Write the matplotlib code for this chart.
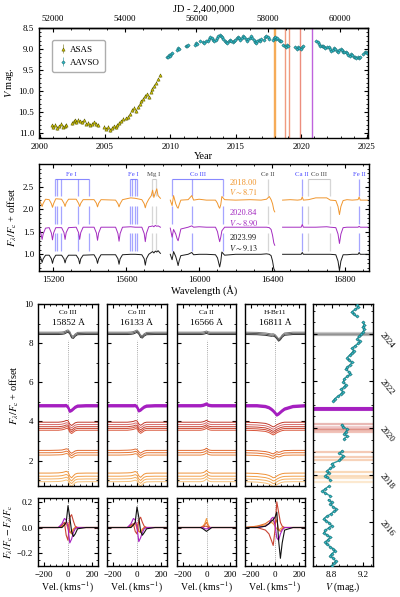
import numpy as np
import matplotlib
matplotlib.use("Agg")
import matplotlib.pyplot as plt
from matplotlib.ticker import MultipleLocator, FixedLocator

plt.rcParams['font.family'] = ['Liberation Serif', 'DejaVu Serif']
plt.rcParams['mathtext.fontset'] = 'stix'
plt.rcParams['font.size'] = 6.5
plt.rcParams['xtick.direction'] = 'in'
plt.rcParams['ytick.direction'] = 'in'
plt.rcParams['xtick.major.size'] = 3
plt.rcParams['ytick.major.size'] = 3
plt.rcParams['xtick.minor.size'] = 1.5
plt.rcParams['ytick.minor.size'] = 1.5
plt.rcParams['axes.linewidth'] = 1.0

# ---------------- light curve data (year, V) ----------------
asas_yr = [2000.95, 2001.05, 2001.15, 2001.3, 2001.45, 2001.6, 2001.75, 2001.9, 2002.05,
           2002.5, 2002.6, 2002.7, 2002.8, 2002.95, 2003.1, 2003.25, 2003.4,
           2003.55, 2003.7, 2003.85, 2004.0, 2004.15, 2004.3, 2004.45,
           2004.9, 2005.05, 2005.2, 2005.35, 2005.5, 2005.65, 2005.8, 2005.95, 2006.1, 2006.25, 2006.4,
           2006.6, 2006.75, 2006.9, 2007.05, 2007.2, 2007.35, 2007.5, 2007.65,
           2007.75, 2007.9, 2008.05, 2008.2, 2008.35, 2008.5, 2008.6, 2008.75, 2008.9, 2009.05, 2009.2]
asas_mag = [10.82, 10.86, 10.80, 10.88, 10.84, 10.78, 10.85, 10.83, 10.80,
            10.76, 10.72, 10.70, 10.74, 10.68, 10.72, 10.75, 10.70,
            10.78, 10.76, 10.80, 10.78, 10.75, 10.79, 10.81,
            10.85, 10.90, 10.86, 10.93, 10.88, 10.84, 10.86, 10.80, 10.76, 10.72, 10.66,
            10.65, 10.62, 10.55, 10.45, 10.40, 10.48, 10.38, 10.32,
            10.25, 10.18, 10.12, 10.08, 10.15, 10.02, 9.95, 9.88, 9.80, 9.72, 9.63]
asas_err = 0.04

aavso_yr = [2009.72, 2009.80, 2009.88, 2009.95, 2010.05, 2010.12,
            2010.50, 2010.58, 2010.66, 2011.20, 2011.28, 2011.36,
            2011.85, 2011.93, 2012.02, 2012.25, 2012.45, 2012.55,
            2012.75, 2012.85, 2012.95, 2013.05, 2013.15, 2013.25, 2013.35, 2013.45, 2013.55,
            2013.65, 2013.75, 2013.85, 2013.95, 2014.05, 2014.15, 2014.25, 2014.35, 2014.45,
            2014.55, 2014.65, 2014.75, 2014.85, 2014.95, 2015.05, 2015.15, 2015.25, 2015.35,
            2015.45, 2015.55, 2015.65, 2015.75, 2015.85, 2015.95, 2016.05, 2016.15, 2016.25,
            2016.35, 2016.45, 2016.55, 2016.65, 2016.75, 2016.85, 2016.95,
            2017.12, 2017.22, 2017.32, 2017.42, 2017.52,
            2017.80, 2017.90, 2017.98, 2018.08, 2018.18, 2018.28, 2018.38, 2018.48,
            2018.62, 2018.72, 2018.82, 2018.92, 2019.02,
            2019.55, 2019.65, 2019.75, 2019.85, 2019.95, 2020.05, 2020.15,
            2021.15, 2021.25, 2021.35, 2021.45, 2021.55, 2021.65, 2021.75, 2021.85, 2021.95,
            2022.10, 2022.20, 2022.30, 2022.40, 2022.50, 2022.60, 2022.70, 2022.80, 2022.90,
            2023.00, 2023.10, 2023.20, 2023.30, 2023.40, 2023.50, 2023.60, 2023.70, 2023.80,
            2023.90, 2024.00, 2024.10, 2024.20, 2024.30, 2024.40, 2024.50,
            2024.75, 2024.85, 2024.95, 2025.05, 2025.15, 2025.25]
aavso_mag = [9.20, 9.18, 9.15, 9.16, 9.12, 9.10,
             9.02, 8.98, 9.00, 8.94, 8.92, 8.90,
             8.90, 8.86, 8.88, 8.80, 8.84, 8.86,
             8.82, 8.80, 8.76, 8.72, 8.75, 8.78, 8.80, 8.78, 8.74,
             8.70, 8.66, 8.68, 8.72, 8.76, 8.80, 8.83, 8.85, 8.82,
             8.78, 8.80, 8.84, 8.82, 8.78, 8.74, 8.72, 8.75, 8.78,
             8.74, 8.70, 8.72, 8.76, 8.80, 8.77, 8.73, 8.70, 8.74,
             8.79, 8.83, 8.86, 8.82, 8.78, 8.80, 8.76,
             8.78, 8.72, 8.68, 8.72, 8.76,
             8.78, 8.74, 8.72, 8.76, 8.74, 8.78, 8.82, 8.80,
             8.90, 8.92, 8.95, 8.90, 8.93,
             8.96, 9.00, 8.96, 8.98, 9.00, 8.95, 8.93,
             8.82, 8.84, 8.88, 8.92, 8.94, 8.92, 8.96, 8.98, 8.95,
             8.96, 9.00, 9.04, 9.02, 8.98, 9.00, 9.04, 9.06, 9.02,
             9.00, 9.03, 9.06, 9.08, 9.06, 9.10, 9.14, 9.16, 9.13,
             9.15, 9.18, 9.20, 9.22, 9.20, 9.22, 9.20,
             9.12, 9.08, 9.06, 9.10, 9.14, 9.12]
aavso_err = 0.02

# epochs marked in the top light curve
mark_epochs = [2017.94, 2017.98, 2018.77, 2019.03, 2019.92, 2020.81]
mark_colors = ['#f5a040', '#f5a040', '#ee8a6a', '#ee8a6a', '#e97a68', '#b448d8']

# ---------------- spectroscopic epochs (groups) ----------------
grp_epochs = [[2017.72, 2017.86, 2017.98, 2018.12],
              [2018.62, 2018.77, 2018.97],
              [2019.82, 2019.90, 2019.96, 2020.05, 2020.18],
              [2020.82, 2020.84, 2020.86],
              [2023.94, 2023.99, 2024.06]]
grp_offsets = [[0.92, 1.06, 1.20, 1.36],
               [2.28, 2.40, 2.52],
               [3.55, 3.64, 3.73, 3.84, 3.96],
               [4.76, 4.80, 4.84],
               [8.44, 8.50, 8.56]]
grp_colors = [['#f8c27a', '#f5b060', '#f2a04a', '#ef9238'],
              ['#e9823a', '#e57433', '#e0682e'],
              ['#d9553a', '#cf4a35', '#c54030', '#d86a6a', '#c0392b'],
              ['#a51fc0', '#a51fc0', '#a51fc0'],
              ['#333333', '#555555', '#777777']]
grp_main = ['#f29a3e', '#e2702f', '#c94434', '#a51fc0', '#111111']

# ---------------- spectra (Angstrom, flux+offset) ----------------
nan = np.nan
wl = [15127, 15133, 15139, 15145, 15158, 15178, 15190, 15196, 15202, 15214,
      15246, 15259, 15265, 15271, 15284, 15326, 15339, 15345, 15351, 15364,
      15424, 15437, 15443, 15449, 15462, 15542, 15555, 15561, 15567, 15580,
      15625, 15650, 15686, 15699, 15705, 15711, 15724, 15738, 15745, 15752,
      15760, 15768, 15775, 15788, nan,
      15842, 15852, 15860, 15872, 15879, 15885, 15891, 15900, 15940, 15960,
      15970, 16000, 16040, 16090, 16101, 16107, 16113, 16119, 16125, 16140,
      16200, 16280, 16340, 16370, 16385, 16395, 16403, 16410, 16415, nan,
      16458, 16500, 16540, 16560, 16566, 16572, 16600, 16640, 16700, 16720,
      16750, 16762, 16770, 16778, 16790, 16811, 16840, 16872, 16878, 16884,
      16900, 16925]
flux_2018 = [2.18, 2.12, 2.06, 2.13, 2.22, 2.21, 2.12, 2.04, 2.12, 2.23,
             2.22, 2.13, 2.06, 2.14, 2.22, 2.22, 2.13, 2.06, 2.13, 2.21,
             2.21, 2.13, 2.05, 2.13, 2.21, 2.20, 2.12, 2.05, 2.12, 2.21,
             2.25, 2.24, 2.21, 2.12, 2.03, 2.12, 2.22, 2.30, 2.42, 2.26,
             2.36, 2.45, 2.30, 2.24, nan,
             2.20, 2.08, 2.30, 2.12, 2.05, 2.02, 2.10, 2.20, 2.21, 2.30,
             2.20, 2.22, 2.20, 2.20, 2.13, 2.06, 2.02, 2.10, 2.28, 2.21,
             2.20, 2.21, 2.20, 2.22, 2.28, 2.21, 2.12, 1.98, 1.94, nan,
             2.20, 2.21, 2.20, 2.21, 2.27, 2.20, 2.21, 2.25, 2.25, 2.20,
             2.19, 2.06, 1.88, 2.06, 2.19, 2.21, 2.20, 2.21, 2.27, 2.20,
             2.20, 2.20]
flux_2020 = [1.55, 1.45, 1.33, 1.45, 1.58, 1.59, 1.47, 1.32, 1.47, 1.59,
             1.59, 1.48, 1.33, 1.48, 1.59, 1.60, 1.48, 1.33, 1.48, 1.60,
             1.60, 1.47, 1.31, 1.47, 1.60, 1.60, 1.46, 1.29, 1.46, 1.60,
             1.61, 1.60, 1.60, 1.46, 1.28, 1.46, 1.61, 1.62, 1.63, 1.61,
             1.64, 1.62, 1.63, 1.60, nan,
             1.58, 1.38, 1.55, 1.45, 1.35, 1.30, 1.40, 1.56, 1.60, 1.63,
             1.60, 1.61, 1.60, 1.60, 1.50, 1.38, 1.28, 1.38, 1.52, 1.60,
             1.60, 1.60, 1.60, 1.60, 1.59, 1.55, 1.42, 1.25, 1.20, nan,
             1.60, 1.60, 1.60, 1.60, 1.66, 1.60, 1.60, 1.60, 1.61, 1.60,
             1.59, 1.45, 1.24, 1.45, 1.59, 1.60, 1.60, 1.60, 1.62, 1.60,
             1.60, 1.60]
flux_2024 = [0.96, 0.90, 0.82, 0.90, 0.98, 0.98, 0.90, 0.80, 0.90, 0.98,
             0.98, 0.90, 0.81, 0.90, 0.98, 0.98, 0.90, 0.79, 0.90, 0.98,
             0.99, 0.90, 0.80, 0.90, 0.99, 0.99, 0.90, 0.78, 0.90, 0.99,
             1.00, 1.00, 0.99, 0.90, 0.76, 0.90, 1.00, 1.04, 1.06, 1.03,
             1.07, 1.05, 1.08, 1.02, nan,
             1.00, 0.88, 1.06, 0.95, 0.85, 0.75, 0.86, 0.97, 1.00, 1.04,
             0.99, 1.00, 1.00, 0.99, 0.92, 0.82, 0.72, 0.84, 1.05, 0.98,
             1.00, 1.00, 1.00, 1.01, 1.00, 0.97, 0.85, 0.68, 0.64, nan,
             1.00, 1.00, 1.00, 1.00, 1.04, 1.00, 1.00, 1.00, 1.00, 1.00,
             0.99, 0.85, 0.64, 0.85, 0.99, 0.99, 1.00, 1.00, 1.04, 1.00,
             1.00, 1.00]
spec_labels = ['2018.00\n$V\\sim8.71$', '2020.84\n$V\\sim8.90$', '2023.99\n$V\\sim9.13$']
spec_colors = ['#f0962e', '#a42cc0', '#1a1a1a']

# line identifications
id_labels = ['Fe I', 'Fe I', 'Mg I', 'Co III', 'Ce II', 'Ca II', 'Co III', 'Fe II']
id_waves = [[15207.5, 15219.6, 15244.9, 15335.4, 15394.7],
            [15621.7, 15631.9, 15648.5, 15662.0],
            [15740.7, 15765.8],
            [15852, 15960, 16133],
            [16376],
            [16566],
            [16600, 16716],
            [16878]]
id_blue = [True, True, False, True, False, True, False, True]

# ---------------- line profiles in velocity space ----------------
vel = [-250, -150, -80, -50, -30, -15, 0, 15, 30, 45, 60, 80, 150, 250]
line_ions = ['Co III', 'Co III', 'Ca II', 'H-Br11']
line_wls = ['15852 Å', '16133 Å', '16566 Å', '16811 Å']

prof_co15852 = [[0, 0, 0.01, 0.03, 0.06, 0.09, 0.05, -0.16, -0.24, -0.14, -0.05, -0.01, 0, 0],
                [0, 0, 0.01, 0.02, 0.05, 0.08, 0.06, -0.08, -0.15, -0.09, -0.03, 0, 0, 0],
                [0, 0, 0, 0.02, 0.05, 0.09, 0.08, -0.10, -0.17, -0.10, -0.03, 0, 0, 0],
                [0, 0, 0, 0, 0, 0.01, -0.06, -0.28, -0.24, -0.16, -0.08, -0.02, 0, 0],
                [0, 0, 0, 0.01, 0.03, 0.08, 0.12, 0.03, -0.17, -0.20, -0.09, -0.01, 0, 0]]
prof_co16133 = [[0, 0, 0.01, 0.02, 0.05, 0.08, 0.04, -0.14, -0.22, -0.13, -0.05, -0.01, 0, 0],
                [0, 0, 0.01, 0.02, 0.04, 0.07, 0.05, -0.07, -0.14, -0.08, -0.03, 0, 0, 0],
                [0, 0, 0, 0.02, 0.04, 0.08, 0.07, -0.09, -0.16, -0.10, -0.03, 0, 0, 0],
                [0, 0, 0, 0, 0, 0.01, -0.05, -0.26, -0.22, -0.14, -0.07, -0.02, 0, 0],
                [0, 0, 0, 0.01, 0.03, 0.07, 0.11, 0.02, -0.15, -0.18, -0.08, -0.01, 0, 0]]
prof_ca16566 = [[0, 0, 0, 0, 0.02, 0.06, 0.14, 0.05, 0.01, 0, 0, 0, 0, 0],
                [0, 0, 0, 0, 0.02, 0.05, 0.11, 0.04, 0.01, 0, 0, 0, 0, 0],
                [0, 0, 0, 0, 0.02, 0.05, 0.10, 0.04, 0.01, 0, 0, 0, 0, 0],
                [0, 0, 0, 0, 0.02, 0.05, 0.09, 0.03, 0.01, 0, 0, 0, 0, 0],
                [0, 0, 0, 0, 0.01, 0.03, 0.06, 0.02, 0, 0, 0, 0, 0, 0]]
prof_br11 = [[0, -0.02, -0.07, -0.12, -0.18, -0.24, -0.22, -0.15, -0.10, -0.06, -0.03, -0.01, 0, 0],
             [0, -0.02, -0.06, -0.10, -0.15, -0.18, -0.12, -0.06, -0.10, -0.08, -0.04, -0.01, 0, 0],
             [0, -0.02, -0.06, -0.12, -0.19, -0.24, -0.20, -0.13, -0.09, -0.05, -0.02, 0, 0, 0],
             [0, 0, -0.04, -0.10, -0.18, -0.26, -0.36, -0.47, -0.42, -0.34, -0.26, -0.17, -0.04, 0],
             [0, -0.01, -0.04, -0.07, -0.09, -0.08, -0.12, -0.22, -0.34, -0.27, -0.14, -0.04, 0, 0]]

res_co15852 = [[0, 0, 0, 0.01, 0.02, 0.03, -0.01, -0.04, -0.03, -0.01, 0, 0, 0, 0],
               [0, 0, 0, 0.01, 0.02, 0.04, 0.03, -0.03, -0.05, -0.02, 0, 0, 0, 0],
               [0, 0, 0, 0.02, 0.04, -0.06, -0.10, 0.08, 0.10, 0.05, 0.01, 0, 0, 0],
               [0, 0, 0, 0.03, 0.07, 0.06, 0.0, -0.12, -0.09, -0.04, -0.01, 0, 0, 0],
               [0, 0, 0, 0.0, 0.02, 0.04, 0.17, 0.08, -0.03, -0.07, -0.05, -0.01, 0, 0]]
res_co16133 = [[0, 0, 0, 0.01, 0.02, 0.03, -0.01, -0.03, -0.03, -0.01, 0, 0, 0, 0],
               [0, 0, 0, 0.01, 0.02, 0.04, 0.03, -0.03, -0.04, -0.02, 0, 0, 0, 0],
               [0, 0, 0, 0.02, 0.03, -0.03, -0.05, 0.06, 0.08, 0.04, 0.01, 0, 0, 0],
               [0, 0, 0, 0.03, 0.07, 0.06, 0.0, -0.11, -0.08, -0.04, -0.01, 0, 0, 0],
               [0, 0, 0, 0.0, 0.02, 0.04, 0.16, 0.08, -0.03, -0.06, -0.04, -0.01, 0, 0]]
res_ca16566 = [[0, 0, 0, 0, 0.01, 0.03, 0.07, 0.02, 0, 0, 0, 0, 0, 0],
               [0, 0, 0, 0, 0.01, 0.02, 0.04, 0.01, 0, 0, 0, 0, 0, 0],
               [0, 0, 0, 0, 0, 0.01, 0.01, 0, 0, 0, 0, 0, 0, 0],
               [0, 0, 0, 0, 0, -0.01, -0.01, -0.01, 0, 0, 0, 0, 0, 0],
               [0, 0, 0, 0, -0.01, -0.02, -0.03, -0.02, -0.01, 0, 0, 0, 0, 0]]
res_br11 = [[0, 0.01, 0.02, 0.03, 0.04, 0.03, 0.01, -0.01, -0.02, -0.01, 0, 0, 0, 0],
            [0, 0.01, 0.03, 0.05, 0.06, 0.05, 0.03, 0.06, -0.02, -0.03, -0.01, 0, 0, 0],
            [0, 0, -0.02, -0.05, -0.10, -0.14, -0.02, 0.20, 0.12, 0.04, 0.01, 0, 0, 0],
            [0, 0, 0.01, 0.03, 0.07, 0.08, 0.02, -0.08, -0.10, -0.05, -0.02, 0, 0, 0],
            [0, 0, 0.01, 0.03, 0.05, 0.06, 0.08, 0.12, -0.10, -0.24, -0.12, -0.02, 0, 0]]

profiles = [prof_co15852, prof_co16133, prof_ca16566, prof_br11]
residuals = [res_co15852, res_co16133, res_ca16566, res_br11]

jd_shift = 80  # approx alignment of the JD axis


def yr2jd(y):
    return 51544.5 + jd_shift + (np.asarray(y) - 2000.0) * 365.25


def jd2yr(j):
    return 2000.0 + (np.asarray(j) - 51544.5 - jd_shift) / 365.25


def rect(l, t, r, b):
    return [l / 400, 1 - b / 597, (r - l) / 400, (b - t) / 597]


def style(ax):
    ax.tick_params(which='both', top=True, right=True, labelsize=6.5)


fig = plt.figure(figsize=(4.0, 5.97), dpi=100)

# ---------------- panel 1: light curve ----------------
ax1 = fig.add_axes(rect(39, 28, 368, 138))
ax1.errorbar(asas_yr, asas_mag, yerr=asas_err, fmt='^', ms=2.3, mfc='#d6c600', mec='#5a5a00',
             mew=0.4, ecolor='#8c8c40', elinewidth=0.5, capsize=0, label='ASAS')
ax1.errorbar(aavso_yr, aavso_mag, yerr=aavso_err, fmt='D', ms=1.7, mfc='#30c0cc', mec='#1a6a70',
             mew=0.4, ecolor='#4aa0a8', elinewidth=0.5, capsize=0, label='AAVSO')
for ep, c in zip(mark_epochs, mark_colors):
    ax1.axvline(ep, color=c, lw=1.0, alpha=0.85, zorder=0)
ax1.set_xlim(1999.95, 2025.1)
ax1.set_ylim(11.12, 8.5)
ax1.xaxis.set_major_locator(MultipleLocator(5))
ax1.xaxis.set_minor_locator(MultipleLocator(1))
ax1.yaxis.set_major_locator(MultipleLocator(0.5))
ax1.yaxis.set_minor_locator(MultipleLocator(0.1))
ax1.tick_params(which='both', top=False, right=True, labelsize=6.5)
ax1.set_xlabel('Year', fontsize=7.5, labelpad=1)
ax1.set_ylabel('$V$ mag.', fontsize=7.5, labelpad=2)
sec = ax1.secondary_xaxis('top', functions=(yr2jd, jd2yr))
sec.xaxis.set_major_locator(FixedLocator([52000, 54000, 56000, 58000, 60000]))
sec.xaxis.set_minor_locator(FixedLocator(np.arange(52000, 60600, 500)))
sec.tick_params(which='both', direction='in', labelsize=6.5)
sec.set_xlabel('JD - 2,400,000', fontsize=7.5, labelpad=3)
ax1.legend(loc='upper left', bbox_to_anchor=(0.025, 0.93), fontsize=6.5, frameon=True,
           edgecolor='0.6', handletextpad=0.2, borderpad=0.6, labelspacing=0.5, handlelength=1.2)

# ---------------- panel 2: spectra ----------------
ax2 = fig.add_axes(rect(39, 164, 369, 271))
for fl, c in zip([flux_2018, flux_2020, flux_2024], spec_colors):
    ax2.plot(wl, fl, color=c, lw=0.7)
seg_levels = [(2.30, 2.66), (1.68, 2.08), (1.08, 1.48)]
for lab, waves, blue in zip(id_labels, id_waves, id_blue):
    lc = '#6a6aff' if blue else '#bbbbbb'
    tc = '#4a4aff' if blue else '#444444'
    for w in waves:
        for y0, y1 in seg_levels:
            ax2.vlines(w, y0, y1, color=lc, lw=0.9, alpha=0.6, zorder=0)
    if len(waves) > 1:
        ax2.hlines(2.66, waves[0], waves[-1], color=lc, lw=0.8, alpha=0.8)
    ax2.text(np.mean([waves[0], waves[-1]]), 2.72, lab, color=tc, fontsize=4.9,
             ha='center', va='bottom')
for i, (lab, c) in enumerate(zip(spec_labels, spec_colors)):
    ax2.text(16165, [2.47, 1.80, 1.24][i], lab, color=c, fontsize=6, ha='left', va='center',
             linespacing=1.1)
ax2.set_xlim(15122, 16932)
ax2.set_ylim(0.63, 3.0)
ax2.set_yticks([1.0, 1.5, 2.0, 2.5])
ax2.xaxis.set_major_locator(MultipleLocator(400))
ax2.xaxis.set_minor_locator(MultipleLocator(100))
ax2.yaxis.set_minor_locator(MultipleLocator(0.1))
style(ax2)
ax2.set_xlabel('Wavelength (Å)', fontsize=7.5, labelpad=1)
ax2.set_ylabel('$F_\\lambda/F_\\mathrm{c}$ + offset', fontsize=7.5, labelpad=3)

# ---------------- panel 3: line profiles ----------------
cols = [(38, 98), (107, 167), (177, 236), (245, 305)]
for i, (l, r) in enumerate(cols):
    axt = fig.add_axes(rect(l, 304, r, 486))
    axb = fig.add_axes(rect(l, 498, r, 566))
    for g in range(5):
        lw = 1.3 if g == 3 else 0.7
        for off, c in zip(grp_offsets[g], grp_colors[g]):
            axt.plot(vel, np.array(profiles[i][g]) + off, color=c, lw=lw)
        axb.plot(vel, residuals[i][g], color=grp_main[g], lw=0.8)
    axt.axvline(0, ymax=0.8, color='0.55', lw=0.6, ls=(0, (1, 1.5)), zorder=0)
    axb.axvline(0, color='0.55', lw=0.6, ls=(0, (1, 1.5)), zorder=0)
    axt.text(0.5, 0.965, line_ions[i], transform=axt.transAxes, ha='center', va='top', fontsize=5.3)
    axt.text(0.5, 0.915, line_wls[i], transform=axt.transAxes, ha='center', va='top', fontsize=6.8)
    axt.set_xlim(-250, 250)
    axt.set_ylim(0.7, 10)
    axb.set_xlim(-250, 250)
    axb.set_ylim(-0.3, 0.23)
    for a in (axt, axb):
        a.xaxis.set_major_locator(MultipleLocator(200))
        a.xaxis.set_minor_locator(MultipleLocator(50))
        style(a)
    axt.yaxis.set_major_locator(MultipleLocator(2))
    axt.yaxis.set_minor_locator(MultipleLocator(1))
    axb.yaxis.set_major_locator(MultipleLocator(0.2))
    axb.yaxis.set_minor_locator(MultipleLocator(0.05))
    axt.tick_params(labelbottom=False)
    axb.set_xlabel('Vel. (km$\\,$s$^{-1}$)', fontsize=7, labelpad=1)
    if i == 0:
        axt.set_ylabel('$F_\\lambda/F_\\mathrm{c}$ + offset', fontsize=7.5, labelpad=2)
        axb.set_ylabel('$F_\\lambda/F_\\mathrm{c} - F_\\lambda/F_\\mathrm{c}$', fontsize=7, labelpad=1)
    else:
        axt.tick_params(labelleft=False)
        axb.tick_params(labelleft=False)

# ---------------- panel 4: zoomed light curve ----------------
ax5 = fig.add_axes(rect(313, 304, 373, 566))
for g in range(5):
    for ep, c in zip(grp_epochs[g], grp_colors[g]):
        ax5.axhline(ep, color=c, lw=2.2 if g == 3 else 1.6, alpha=0.9 if g == 3 else 0.35, zorder=0)
# break the connecting line across seasonal gaps
yr_arr = np.array(aavso_yr)
mag_arr = np.array(aavso_mag)
gaps = np.where(np.diff(yr_arr) > 0.15)[0] + 1
yr_line = np.insert(yr_arr, gaps, np.nan)
mag_line = np.insert(mag_arr, gaps, np.nan)
ax5.plot(mag_line, yr_line, color='#2a9aa0', lw=1.0, zorder=2)
ax5.errorbar(aavso_mag, aavso_yr, xerr=aavso_err, fmt='D', ms=1.6, mfc='#30c0cc', mec='#1a6a70',
             mew=0.4, ecolor='#4aa0a8', elinewidth=0.5, capsize=0, zorder=3)
ax5.set_xlim(8.56, 9.33)
ax5.set_ylim(2014.13, 2025.28)
ax5.set_xticks([8.8, 9.2])
ax5.xaxis.set_minor_locator(MultipleLocator(0.1))
ax5.yaxis.set_major_locator(MultipleLocator(2))
ax5.yaxis.set_minor_locator(MultipleLocator(0.5))
style(ax5)
ax5.tick_params(axis='y', labelleft=False, labelright=True, labelrotation=-50)
ax5.set_xlabel('$V$ (mag.)', fontsize=7, labelpad=1)

fig.savefig('out.png', dpi=100)
